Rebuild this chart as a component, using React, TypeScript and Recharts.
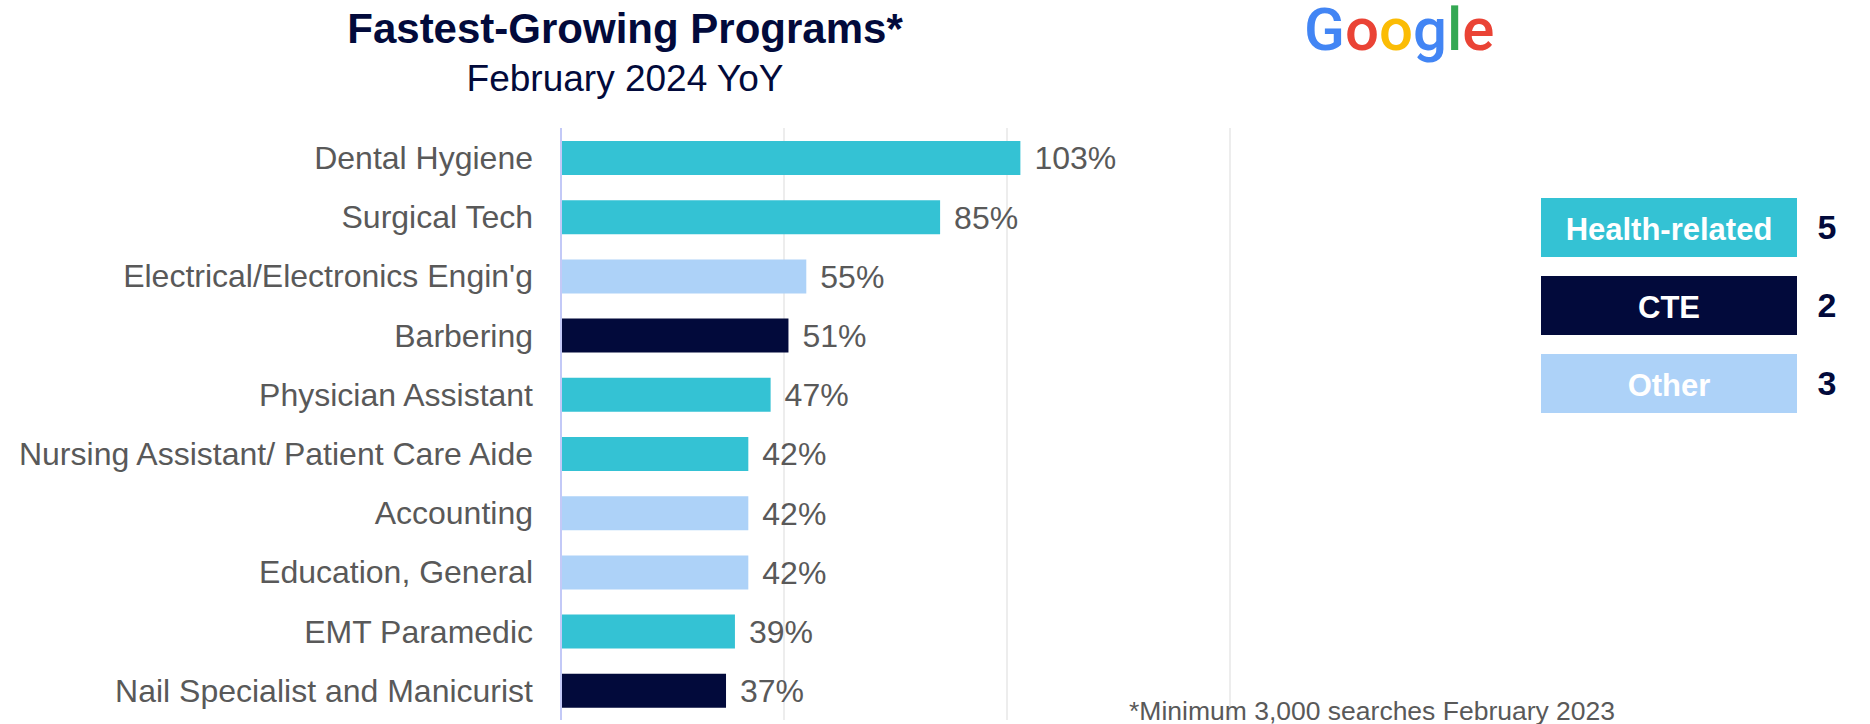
import React from 'react';
import { BarChart, Bar, XAxis, YAxis, CartesianGrid, Cell, LabelList } from 'recharts';

const programs = [
  'Dental Hygiene',
  'Surgical Tech',
  "Electrical/Electronics Engin'g",
  'Barbering',
  'Physician Assistant',
  'Nursing Assistant/ Patient Care Aide',
  'Accounting',
  'Education, General',
  'EMT Paramedic',
  'Nail Specialist and Manicurist',
];
const growth = [103, 85, 55, 51, 47, 42, 42, 42, 39, 37];
const groups = ['Health', 'Health', 'Other', 'CTE', 'Health', 'Health', 'Other', 'Other', 'Health', 'CTE'];

const legendKeys = ['Health', 'CTE', 'Other'];
const legendLabels = ['Health-related', 'CTE', 'Other'];
const legendCounts = [5, 2, 3];

const xTicks = [0, 50, 100, 150];

const colors: Record<string, string> = {
  Health: '#34c2d4',
  CTE: '#020a3b',
  Other: '#add2f8',
};

const googleLetters = ['G', 'o', 'o', 'g', 'l', 'e'];
const googleColors = ['#4285f4', '#ea4335', '#fbbc05', '#4285f4', '#34a853', '#ea4335'];

const data = programs.map((p, i) => ({ program: p, growth: growth[i], group: groups[i] }));

const font = '"Liberation Sans", Arial, sans-serif';

export default function App() {
  return (
    <div style={{ position: 'absolute', left: 0, top: 0, width: 1870, height: 724, background: '#fff', fontFamily: font }}>
      <BarChart
        width={1870}
        height={724}
        data={data}
        layout="vertical"
        margin={{ top: 128, right: 640, bottom: 4, left: 0 }}
        barSize={34}
      >
        <CartesianGrid horizontal={false} stroke="#ededed" strokeWidth={2} />
        <XAxis type="number" domain={[0, 150]} ticks={xTicks} hide />
        <YAxis
          type="category"
          dataKey="program"
          width={561}
          interval={0}
          tickLine={false}
          tickSize={0}
          tickMargin={28}
          axisLine={{ stroke: '#c3c9f7', strokeWidth: 2 }}
          tick={{ fill: '#595959', fontSize: 32, fontFamily: font }}
        />
        <Bar dataKey="growth" isAnimationActive={false}>
          {data.map((d, i) => (
            <Cell key={i} fill={colors[d.group]} />
          ))}
          <LabelList
            dataKey="growth"
            position="right"
            offset={14}
            fill="#595959"
            fontSize={32}
            fontFamily={font}
            formatter={(v: any) => `${v}%`}
          />
        </Bar>
      </BarChart>

      <svg
        width={1870}
        height={724}
        style={{ position: 'absolute', left: 0, top: 0, pointerEvents: 'none' }}
      >
        <text x={625} y={43} textAnchor="middle" fontSize={42} fontWeight="bold" fill="#020a3b" fontFamily={font}>
          Fastest-Growing Programs*
        </text>
        <text x={625} y={91} textAnchor="middle" fontSize={37} fill="#020a3b" fontFamily={font}>
          February 2024 YoY
        </text>

        <text x={1304} y={50} fontSize={60} fontFamily="Roboto, 'Open Sans', sans-serif" fontWeight={500}>
          {googleLetters.map((ch, i) => (
            <tspan key={i} fill={googleColors[i]}>
              {ch}
            </tspan>
          ))}
        </text>

        {legendKeys.map((k, i) => {
          const top = 198 + i * 78;
          return (
            <g key={k}>
              <rect x={1541} y={top} width={256} height={59} fill={colors[k]} />
              <text x={1669} y={top + 42} textAnchor="middle" fontSize={31} fontWeight="bold" fill="#ffffff" fontFamily={font}>
                {legendLabels[i]}
              </text>
              <text x={1827} y={top + 41} textAnchor="middle" fontSize={34} fontWeight="bold" fill="#020a3b" fontFamily={font}>
                {legendCounts[i]}
              </text>
            </g>
          );
        })}

        <text x={1129} y={720} fontSize={26.5} fill="#595959" fontFamily={font}>
          *Minimum 3,000 searches February 2023
        </text>
      </svg>
    </div>
  );
}
